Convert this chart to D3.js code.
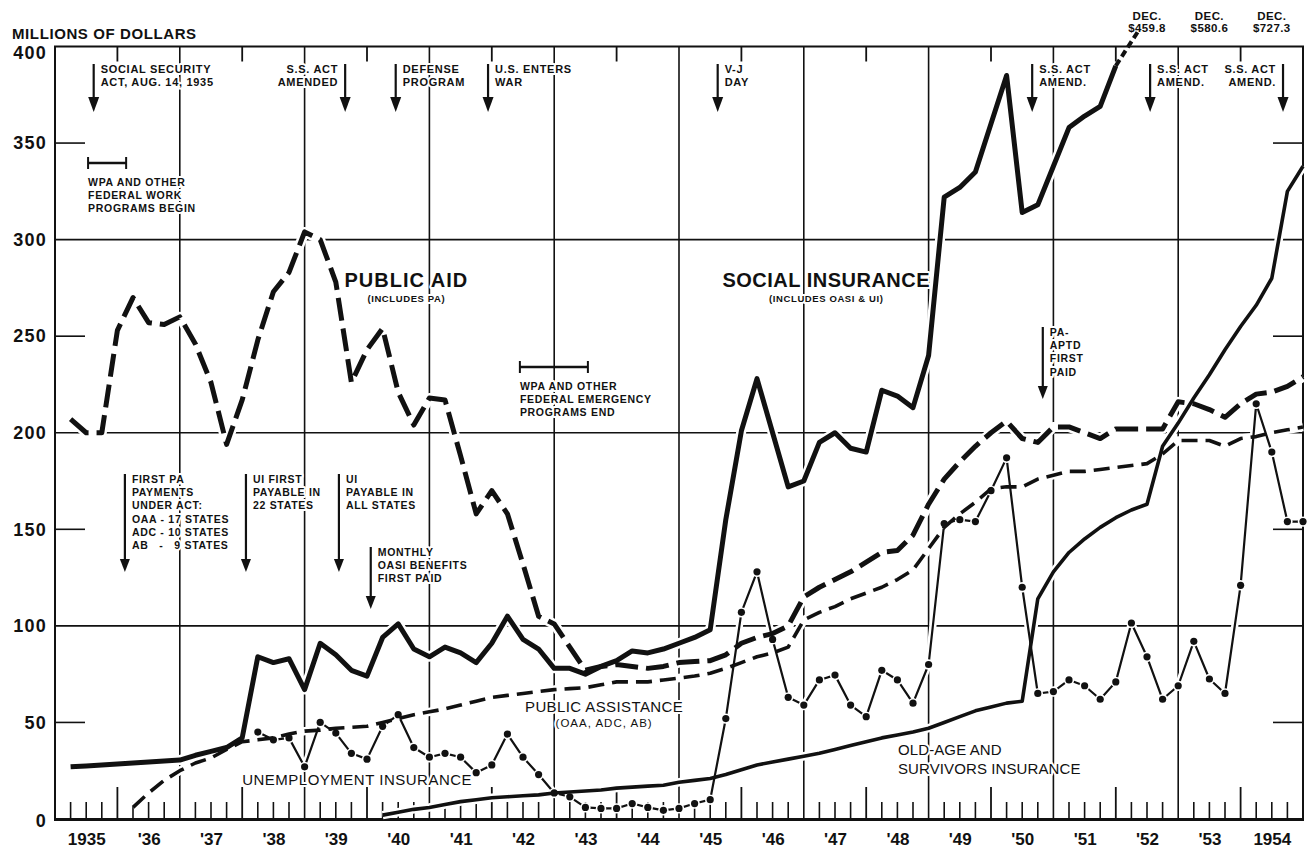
<!DOCTYPE html>
<html><head><meta charset="utf-8">
<script src="https://cdn.jsdelivr.net/npm/d3@7/dist/d3.min.js"></script>
<style>
html,body{margin:0;padding:0;background:#fff;}
svg{display:block;}
text{font-family:"Liberation Sans",Arial,Helvetica,sans-serif;fill:#111;}
.halo{paint-order:stroke;stroke:#fff;stroke-width:4px;stroke-linejoin:round;}
</style></head><body>
<svg id="chart" width="1311" height="849"></svg>
<script>
// ---------------- DATA ----------------
const years = [1935,1936,1937,1938,1939,1940,1941,1942,1943,1944,1945,1946,1947,1948,1949,1950,1951,1952,1953,1954];
const yearLabels = ["1935","'36","'37","'38","'39","'40","'41","'42","'43","'44","'45","'46","'47","'48","'49","'50","'51","'52","'53","1954"];
const yTickValues = [0,50,100,150,200,250,300,350,400];
const yGridValues = [100,200,300];
const yShortTickValues = [50,150,250,350];

// quarterly values (millions of dollars), first value belongs to the given quarter
const socialInsuranceStart = "1935-Q1";
const socialInsurance = [27,27.5,28,28.5,29,29.5,30,30.5,33,35,37,42,
  84,81,83,67,91,85,77,74,94,101,88,84,
  89,86,81,91,105,93,88,78,78,75,79,82,
  87,86,88,91,94,98,155,201,228,200,172,175,
  195,200,192,190,222,219,213,240,322,327,335,360,
  385,314,318,338,358,364,369,390];
const socialInsuranceDec1951 = 459.8;

const publicAidStart = "1935-Q1";
const publicAid = [207,200,200,253,270,257,256,260,246,226,194,217,
  248,273,283,304,300,278,226,243,254,221,204,218,
  217,188,158,170,158,132,105,101,89,77,79,80,
  79,78,79,81,81.5,82,85,91,94,96,100,115,
  120,124,128,133,138,139,147,163,176,185,193,200,
  206,197,195,203,203,200,197,202,202,202,202,216,
  215,212,208,215,220,221,224,229];

const publicAssistanceStart = "1936-Q1";
const publicAssistance = [6,13.5,20,25,29,31.6,36,40,
  41,42,44,45.5,46,47,47.5,48,50,52,54,55.5,
  57,59,61,63,64,65,66,67,67.5,68,69.5,71,
  71,71,72,73,74,75.5,78,81,84,86,89,103,
  107,110,114,117,120,124,129,140,151,158,164,171,
  172,172,176,178,180,180,181,182,183,184,189,196,
  196,196,193,197,198,200,201.5,203];

const unemploymentStart = "1938-Q1";
const unemployment = [45,41,42,27,50,44.5,34,31,48,54,37,32,
  34,32,24,28,44,32,23,13.5,11.5,6,5.5,5.5,
  8,6,4.5,5.5,8,10,52,107,128,93,63,59,
  72,74.5,59,53,77,72,60,80,153,155,154,170,
  187,120,65,66,72,69,62,71,101.5,84,62,69,
  92,72.5,65,121,215,190,154,154];

const oasiStart = "1940-Q1";
const oasi = [2,3.5,5,6,7.5,9,10,11,11.5,12,12.5,13.5,
  14,14.5,15,16,16.5,17,17.5,19,20,21,23,25.5,
  28,29.5,31,32.5,34,36,38,40,42,43.5,45,47,
  50,53,56,58,60,61,114,128,138,145,151,156,
  160,163,193,205,218,230,243,255,266,280,325,338];

// off-chart December totals of social insurance
const decTotals = [{year:1951, label:"$459.8"},{year:1952, label:"$580.6"},{year:1953, label:"$727.3"}];

// event annotations (date as decimal year)
const topEvents = [
  {t:1935.62, lines:["SOCIAL SECURITY","ACT, AUG. 14, 1935"], side:"right"},
  {t:1939.65, lines:["S.S. ACT","AMENDED"], side:"left"},
  {t:1940.46, lines:["DEFENSE","PROGRAM"], side:"right"},
  {t:1941.94, lines:["U.S. ENTERS","WAR"], side:"right"},
  {t:1945.62, lines:["V-J","DAY"], side:"right"},
  {t:1950.66, lines:["S.S. ACT","AMEND."], side:"right"},
  {t:1952.55, lines:["S.S. ACT","AMEND."], side:"right"},
  {t:1954.68, lines:["S.S. ACT","AMEND."], side:"left"}
];
const lowerEvents = [
  {t:1936.12, lines:["FIRST PA","PAYMENTS","UNDER ACT:","OAA - 17 STATES","ADC - 10 STATES","AB   -   9 STATES"], row:"a"},
  {t:1938.06, lines:["UI FIRST","PAYABLE IN","22 STATES"], row:"a"},
  {t:1939.55, lines:["UI","PAYABLE IN","ALL STATES"], row:"a"},
  {t:1940.06, lines:["MONTHLY","OASI BENEFITS","FIRST PAID"], row:"b"},
  {t:1950.83, lines:["PA-","APTD","FIRST","PAID"], row:"c"}
];
const periods = [
  {t0:1935.53, t1:1936.14, lines:["WPA AND OTHER","FEDERAL WORK","PROGRAMS BEGIN"], row:"a"},
  {t0:1942.45, t1:1943.54, lines:["WPA AND OTHER","FEDERAL EMERGENCY","PROGRAMS END"], row:"b"}
];

// ---------------- LAYOUT ----------------
const svg = d3.select("#chart");
const x = d3.scaleLinear().domain([1935,1955]).range([55,1303]);
const y = d3.scaleLinear().domain([0,400]).range([819,46.5]);
const X0 = x.range()[0], X1 = x.range()[1], Y0 = y.range()[0], Y1 = y.range()[1];
const ink = "#111";

function toSeries(start, vals){
  const p = start.split("-Q"); const t0 = +p[0] + (+p[1])/4;
  return vals.map((v,i)=>({t:t0+i/4, v}));
}

const gGrid = svg.append("g");
gGrid.selectAll(".hg").data(yGridValues).join("line")
  .attr("x1",X0).attr("x2",X1).attr("y1",d=>y(d)).attr("y2",d=>y(d))
  .attr("stroke",ink).attr("stroke-width",1.6);
gGrid.selectAll(".hl").data(yShortTickValues).join("line")
  .attr("x1",X0).attr("x2",X0+30).attr("y1",d=>y(d)).attr("y2",d=>y(d))
  .attr("stroke",ink).attr("stroke-width",1.6);
gGrid.selectAll(".hr").data(yShortTickValues).join("line")
  .attr("x1",X1-30).attr("x2",X1).attr("y1",d=>y(d)).attr("y2",d=>y(d))
  .attr("stroke",ink).attr("stroke-width",1.6);
const oddYears = years.filter(v=>v%2===1 && v>1935);
const evenYears = years.filter(v=>v%2===0);
gGrid.selectAll(".vg").data(oddYears).join("line")
  .attr("x1",d=>x(d)).attr("x2",d=>x(d)).attr("y1",Y1).attr("y2",Y0)
  .attr("stroke",ink).attr("stroke-width",1.6);
gGrid.selectAll(".tt").data(evenYears).join("line")
  .attr("x1",d=>x(d)).attr("x2",d=>x(d)).attr("y1",Y1).attr("y2",Y1+15)
  .attr("stroke",ink).attr("stroke-width",1.8);
gGrid.selectAll(".bt").data(evenYears).join("line")
  .attr("x1",d=>x(d)).attr("x2",d=>x(d)).attr("y1",Y0).attr("y2",Y0-32)
  .attr("stroke",ink).attr("stroke-width",1.8);
const quarterTicks = [];
years.forEach(yr=>{[0.25,0.5,0.75].forEach(f=>quarterTicks.push(yr+f));});
gGrid.selectAll(".qt").data(quarterTicks).join("line")
  .attr("x1",d=>x(d)).attr("x2",d=>x(d)).attr("y1",Y0).attr("y2",Y0-17)
  .attr("stroke",ink).attr("stroke-width",1.6);
gGrid.append("rect").attr("x",X0).attr("y",Y1).attr("width",X1-X0).attr("height",Y0-Y1)
  .attr("fill","none").attr("stroke",ink).attr("stroke-width",2);
gGrid.append("line").attr("x1",X0-1).attr("x2",X1+1).attr("y1",Y0+0.5).attr("y2",Y0+0.5)
  .attr("stroke",ink).attr("stroke-width",3.2);

// axes labels
const yAxis = d3.axisLeft(y).tickValues(yTickValues).tickSize(0).tickPadding(0);
svg.append("g").attr("transform",`translate(${X0-8},0)`).call(yAxis)
  .call(g=>g.select(".domain").remove())
  .call(g=>g.selectAll(".tick").filter(d=>d===400).select("text").attr("y",6))
  .call(g=>g.selectAll(".tick").filter(d=>d===0).select("text").attr("y",2))
  .selectAll("text").style("font-size","18px").style("font-weight","bold").style("letter-spacing","1.2px").attr("fill",ink);
const xAxis = d3.axisBottom(x).tickValues(years.map(v=>v+0.5)).tickFormat((d,i)=>yearLabels[i]).tickSize(0).tickPadding(14);
svg.append("g").attr("transform",`translate(0,${Y0})`).call(xAxis)
  .call(g=>g.select(".domain").remove())
  .selectAll("text").style("font-size","17px").style("font-weight","bold").attr("fill",ink);

svg.append("text").attr("x",12).attr("y",39).style("font-size","15px").style("font-weight","bold")
  .style("letter-spacing","0.6px").text("MILLIONS OF DOLLARS");

// ---------------- ANNOTATIONS ----------------
const gAnn = svg.append("g");
function textBlock(xp, yBase, lines, anchor, size, spacing, weight, ls){
  const t = gAnn.append("text").attr("class","halo").attr("text-anchor",anchor)
    .style("font-size",size+"px").style("font-weight",weight||"bold").style("letter-spacing",(ls==null?0.7:ls)+"px")
    .style("white-space","pre");
  lines.forEach((l,i)=>t.append("tspan").attr("x",xp).attr("y",yBase+i*spacing).text(l));
}
function arrow(xp, yTop, yTip, hw, hh){
  gAnn.append("line").attr("x1",xp).attr("x2",xp).attr("y1",yTop).attr("y2",yTip-hh+2)
    .attr("stroke",ink).attr("stroke-width",2.2);
  gAnn.append("path").attr("d",`M${xp-hw},${yTip-hh}L${xp+hw},${yTip-hh}L${xp},${yTip}Z`).attr("fill",ink);
}
topEvents.forEach(e=>{
  const xp = x(e.t);
  arrow(xp, 64, 112, 5.5, 15);
  textBlock(e.side==="right"?xp+7:xp-7, 73, e.lines, e.side==="right"?"start":"end", 11, 13);
});
const rowY = {a:[474,572], b:[547,609], c:[327,399]};
lowerEvents.forEach(e=>{
  const xp = x(e.t); const r = rowY[e.row];
  arrow(xp, r[0], r[1], 5, 13);
  textBlock(xp+7, r[0]+9, e.lines, "start", 10.5, 13.2);
});
const periodY = {a:163, b:367};
periods.forEach(p=>{
  const yy = periodY[p.row], a = x(p.t0), b = x(p.t1);
  gAnn.append("line").attr("x1",a).attr("x2",b).attr("y1",yy).attr("y2",yy).attr("stroke",ink).attr("stroke-width",2.4);
  [a,b].forEach(v=>gAnn.append("line").attr("x1",v).attr("x2",v).attr("y1",yy-6).attr("y2",yy+6).attr("stroke",ink).attr("stroke-width",2));
  textBlock(a, yy+22.5, p.lines, "start", 10.5, 13);
});
decTotals.forEach(d=>{
  textBlock(x(d.year+1.5), 20, ["DEC.", d.label], "middle", 11.5, 12, "bold", 0.4);
});

// series labels
textBlock(x(1940.63), 287, ["PUBLIC AID"], "middle", 20, 0, "bold", 1);
textBlock(x(1940.63), 302, ["(INCLUDES PA)"], "middle", 9.5, 0, "bold", 0.6);
textBlock(x(1947.36), 287, ["SOCIAL INSURANCE"], "middle", 20, 0, "bold", 0.5);
textBlock(x(1947.36), 302, ["(INCLUDES OASI & UI)"], "middle", 9.5, 0, "bold", 0.6);
textBlock(x(1943.8), 712, ["PUBLIC ASSISTANCE"], "middle", 15, 0, "normal", 0.4);
textBlock(x(1943.8), 727, ["(OAA, ADC, AB)"], "middle", 11.5, 0, "normal", 1);
textBlock(x(1938.0), 785, ["UNEMPLOYMENT INSURANCE"], "start", 15, 0, "normal", 0.5);
textBlock(x(1948.51), 755, ["OLD-AGE AND","SURVIVORS INSURANCE"], "start", 15, 18.5, "normal", 0.1);

// ---------------- DATA LINES ----------------
const line = d3.line().x(d=>x(d.t)).y(d=>y(d.v));
const sSI = toSeries(socialInsuranceStart, socialInsurance);
const sPAid = toSeries(publicAidStart, publicAid);
const sPA = toSeries(publicAssistanceStart, publicAssistance);
const sUI = toSeries(unemploymentStart, unemployment);
const sOASI = toSeries(oasiStart, oasi);

const gLines = svg.append("g").attr("fill","none").attr("stroke-linejoin","round");
[[sPA,3.5],[sPAid,5],[sSI,5],[sOASI,3.5],[sUI,2.2]].forEach(([s,w])=>{
  gLines.append("path").datum(s).attr("d",line).attr("stroke","#fff").attr("stroke-width",w+5);
});
gLines.append("path").datum(sUI).attr("d",line).attr("stroke",ink).attr("stroke-width",2.2);
gLines.selectAll(".uiring").data(sUI).join("circle").attr("cx",d=>x(d.t)).attr("cy",d=>y(d.v)).attr("r",5.2).attr("fill","#fff").attr("stroke","none");
gLines.selectAll(".uidot").data(sUI).join("circle").attr("cx",d=>x(d.t)).attr("cy",d=>y(d.v)).attr("r",3.6).attr("fill",ink).attr("stroke","none");
gLines.append("path").datum(sPA).attr("d",line).attr("stroke",ink).attr("stroke-width",3.6).attr("stroke-dasharray","16,8");
gLines.append("path").datum(sPAid).attr("d",line).attr("stroke",ink).attr("stroke-width",5).attr("stroke-dasharray","23,8");
gLines.append("path").datum(sOASI).attr("d",line).attr("stroke",ink).attr("stroke-width",3.6);
gLines.append("path").datum(sSI).attr("d",line).attr("stroke",ink).attr("stroke-width",5);
const last = sSI[sSI.length-1];
const leaderEnd = {t: last.t + 0.36, v: 408};
gLines.append("path").datum([last, leaderEnd]).attr("d",line).attr("stroke",ink).attr("stroke-width",4).attr("stroke-dasharray","7,4");
</script>
</body></html>
